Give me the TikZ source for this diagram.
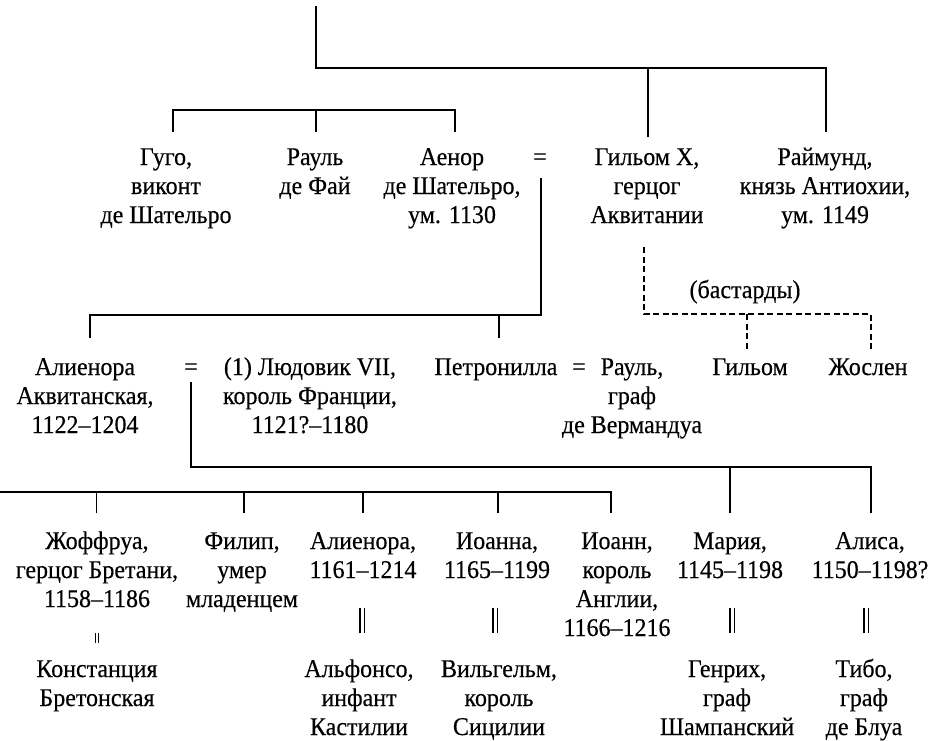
\documentclass[tikz,border=0pt]{standalone}
\usepackage{fontspec}
\setmainfont[FakeStretch=0.94,FakeBold=0.35]{Liberation Serif}
\newcommand\ppl[1]{\begin{tabular}[t]{@{}c@{}}#1\end{tabular}}
\begin{document}
\begin{tikzpicture}[x=1pt,y=-1pt,
  pn/.style={anchor=base, inner sep=0pt, font=\fontsize{25.5}{29}\selectfont},
  ln/.style={line width=1.3pt},
  dl/.style={line width=1.3pt, dash pattern=on 6pt off 3.5pt},
  mm/.style={line width=1.8pt}]
\useasboundingbox (0,0) rectangle (934,741);
% Row 1
\node[pn] (hugo)  at (166,165) {\ppl{Гуго,\\виконт\\де Шательро}};
\node[pn] (raoulF) at (315,165) {\ppl{Рауль\\де Фай}};
\node[pn] (aenor) at (452,165) {\ppl{Аенор\\де Шательро,\\ум. 1130}};
\node[pn] (eq1)   at (540,165) {=};
\node[pn] (gX)    at (647,165) {\ppl{Гильом X,\\герцог\\Аквитании}};
\node[pn] (raym)  at (825,165) {\ppl{Раймунд,\\князь Антиохии,\\ум. 1149}};
\node[pn] (bast)  at (745,298) {(бастарды)};
% Row 2
\node[pn] (alienor) at (85,375) {\ppl{Алиенора\\Аквитанская,\\1122–1204}};
\node[pn] (eq2)   at (191,375) {=};
\node[pn] (louis) at (310,375) {\ppl{(1) Людовик VII,\\король Франции,\\1121?–1180}};
\node[pn] (petr)  at (496,375) {Петронилла};
\node[pn] (eq3)   at (579,375) {=};
\node[pn] (raoulV) at (632,375) {\ppl{Рауль,\\граф\\де Вермандуа}};
\node[pn] (guil)  at (750,375) {Гильом};
\node[pn] (josl)  at (868,375) {Жослен};
% Row 3
\node[pn] (geof)   at (97,549)  {\ppl{Жоффруа,\\герцог Бретани,\\1158–1186}};
\node[pn] (phil)   at (242,549) {\ppl{Филип,\\умер\\младенцем}};
\node[pn] (alien2) at (363,549) {\ppl{Алиенора,\\1161–1214}};
\node[pn] (joan)   at (497,549) {\ppl{Иоанна,\\1165–1199}};
\node[pn] (john)   at (617,549) {\ppl{Иоанн,\\король\\Англии,\\1166–1216}};
\node[pn] (marie)  at (730,549) {\ppl{Мария,\\1145–1198}};
\node[pn] (alix)   at (870,549) {\ppl{Алиса,\\1150–1198?}};
% Row 4
\node[pn] (const) at (97,677)  {\ppl{Констанция\\Бретонская}};
\node[pn] (alf)   at (359,677) {\ppl{Альфонсо,\\инфант\\Кастилии}};
\node[pn] (will)  at (499,677) {\ppl{Вильгельм,\\король\\Сицилии}};
\node[pn] (henri) at (727,677) {\ppl{Генрих,\\граф\\Шампанский}};
\node[pn] (thib)  at (864,677) {\ppl{Тибо,\\граф\\де Блуа}};
% connector coordinates
\coordinate (top) at (316,6);
\coordinate (b1) at (316,68);
\coordinate (gXt) at (648,137);
\coordinate (raymt) at (826,132);
\coordinate (hugot) at (173,132);
\coordinate (raoulFt) at (316,132);
\coordinate (aenort) at (455,132);
\coordinate (eq1b) at (541,178);
\coordinate (aliet) at (90,338);
\coordinate (petrt) at (499,338);
\coordinate (gXb) at (644,247);
\coordinate (guilt) at (747,349);
\coordinate (joslt) at (871,349);
\coordinate (eq2b) at (191,382);
\coordinate (mariet) at (730,513);
\coordinate (alixt) at (871,513);
\coordinate (lft) at (0,492);
\coordinate (geoft) at (96.5,513);
\coordinate (philt) at (244,513);
\coordinate (ali2t) at (363,513);
\coordinate (joant) at (498,513);
\coordinate (johnt) at (611,513);
% top family
\draw[ln] (top) -- (b1) -- (raymt |- b1) -- (raymt);
\draw[ln] (gXt |- b1) -- (gXt);
\draw[ln] (hugot) |- (raoulFt |- 0,110) -| (aenort);
\draw[ln] (raoulFt |- 0,110) -- (raoulFt);
% Aenor = Guillaume X
\draw[ln] (eq1b) -- (eq1b |- 0,315) -| (aliet);
\draw[ln] (petrt |- 0,315) -- (petrt);
% bastards
\draw[dl] (gXb) |- (joslt |- 0,314) -- (joslt);
\draw[dl] (guilt |- 0,314) -- (guilt);
% Alienor = Louis VII
\draw[ln] (eq2b) |- (alixt |- 0,467) -- (alixt);
\draw[ln] (mariet |- 0,467) -- (mariet);
% other marriage (off picture)
\draw[ln] (lft) -| (johnt);
\foreach \c in {geoft,philt,ali2t,joant}
  \draw[ln] (\c |- lft) -- (\c);
% marriage marks
\foreach \xx in {362,495,732,866}{
  \draw[mm] (\xx-2.4,608) -- (\xx-2.4,633);
  \draw[mm] (\xx+2.4,608) -- (\xx+2.4,633);
}
\draw[line width=1.2pt] (95.2,633) -- (95.2,643);
\draw[line width=1.2pt] (98.6,633) -- (98.6,643);
\end{tikzpicture}
\end{document}
